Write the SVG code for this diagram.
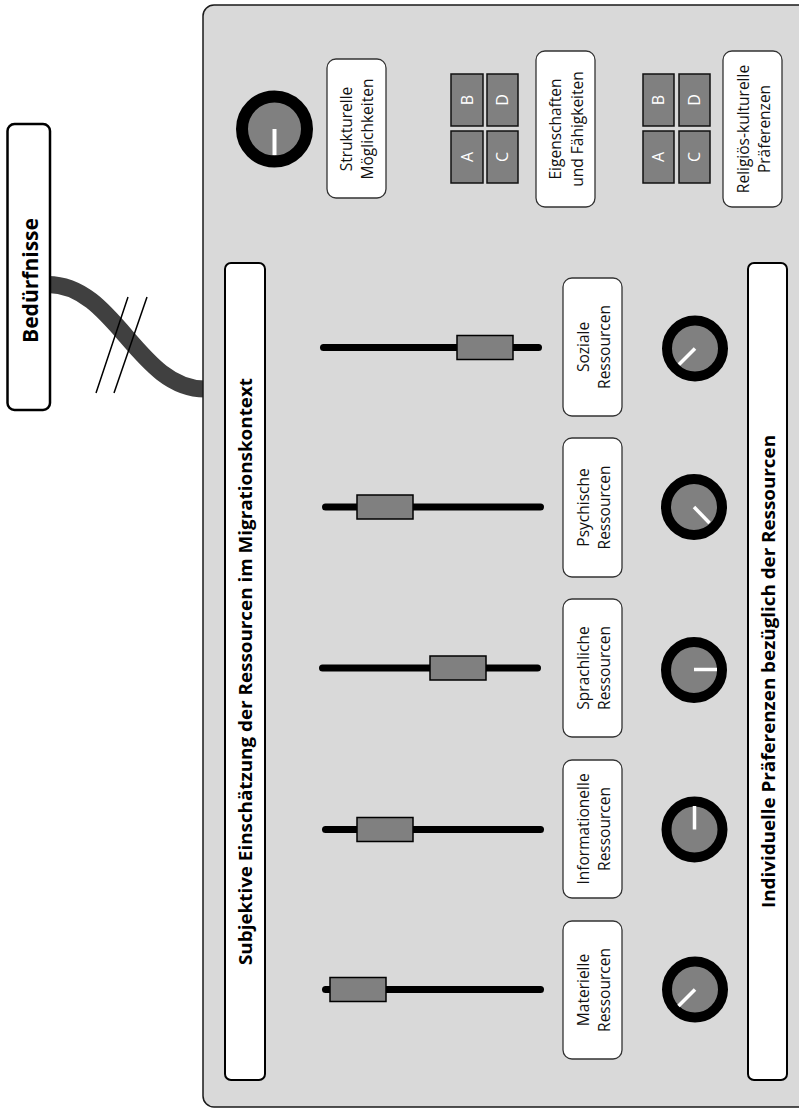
<svg xmlns="http://www.w3.org/2000/svg" width="799" height="1110" viewBox="0 0 799 1110">
<defs>
<style>
.panel{fill:#d9d9d9;stroke:#1a1a1a;stroke-width:1.5}
.title{fill:#fff;stroke:#000;stroke-width:2}
.lbox{fill:#fff;stroke:#333;stroke-width:1.3}
.lbl{font-family:"Open Sans","Noto Sans",sans-serif;font-size:15.5px;fill:#111;text-anchor:middle}
.ttl{font-family:"Open Sans","Noto Sans",sans-serif;font-size:18.3px;font-weight:bold;fill:#000;text-anchor:middle}
.track{stroke:#000;stroke-width:7;stroke-linecap:round;fill:none}
.handle{fill:#808080;stroke:#000;stroke-width:1.5}
.knob{fill:#808080;stroke:#000;stroke-width:10}
.ind{stroke:#fff;stroke-width:3.5;fill:none}
.blk{fill:#808080;stroke:#111;stroke-width:1.5}
.let{font-family:"Open Sans","Noto Sans",sans-serif;font-size:16px;fill:#fff;text-anchor:middle}
</style>
</defs>
<g id="connectors">
<path d="M48,284.5 C115,284.5 138,389 205,389" fill="none" stroke="#404040" stroke-width="17"/>
<line x1="128" y1="297" x2="96" y2="393" stroke="#000" stroke-width="1.5"/>
<line x1="147" y1="297" x2="114" y2="393" stroke="#000" stroke-width="1.5"/>
</g>
<g id="beduerfnisse">
<rect x="7.5" y="124" width="42.5" height="286" rx="7" fill="#fff" stroke="#000" stroke-width="2.5"/>
<text class="ttl" style="font-size:21px" transform="translate(37.5,280.5) rotate(-90)" x="0" y="0" textLength="125" lengthAdjust="spacingAndGlyphs">Bedürfnisse</text>
</g>
<g id="panel">
<rect class="panel" x="203" y="5" width="640" height="1102" rx="11"/>
</g>
<g id="title-left">
<rect class="title" x="225" y="263" width="40" height="817" rx="6"/>
<text class="ttl" transform="translate(245,671.5) rotate(-90)" x="0" y="7" textLength="587" lengthAdjust="spacingAndGlyphs">Subjektive Einschätzung der Ressourcen im Migrationskontext</text>
</g>
<g id="title-right">
<rect class="title" x="748" y="263" width="39" height="817" rx="6"/>
<text class="ttl" transform="translate(767.5,671.5) rotate(-90)" x="0" y="7" textLength="473" lengthAdjust="spacingAndGlyphs">Individuelle Präferenzen bezüglich der Ressourcen</text>
</g>
<g id="knob-strukturell">
<circle cx="274.5" cy="129" r="32.5" fill="#808080" stroke="#000" stroke-width="12"/>
<line class="ind" x1="274.5" y1="129" x2="274.5" y2="155" style="stroke-width:4"/>
</g>
<g id="label-strukturell">
<rect class="lbox" x="327" y="59" width="59" height="139" rx="9"/>
<text class="lbl" transform="translate(356.5,129) rotate(-90)"><tspan x="0" y="-4.5">Strukturelle</tspan><tspan x="0" y="16.5">Möglichkeiten</tspan></text>
</g>
<g id="blocks-1">
<rect class="blk" x="451" y="74" width="32" height="52"/>
<rect class="blk" x="451" y="131" width="32" height="52"/>
<rect class="blk" x="487" y="74" width="31" height="52"/>
<rect class="blk" x="487" y="131" width="31" height="52"/>
<text class="let" transform="translate(467,100) rotate(-90)" y="5.7">B</text>
<text class="let" transform="translate(467,157) rotate(-90)" y="5.7">A</text>
<text class="let" transform="translate(502.5,100) rotate(-90)" y="5.7">D</text>
<text class="let" transform="translate(502.5,157) rotate(-90)" y="5.7">C</text>
</g>
<g id="label-eigenschaften">
<rect class="lbox" x="536" y="51" width="59" height="156" rx="9"/>
<text class="lbl" transform="translate(565.5,129) rotate(-90)"><tspan x="0" y="-4.5">Eigenschaften</tspan><tspan x="0" y="17">und Fähigkeiten</tspan></text>
</g>
<g id="blocks-2">
<rect class="blk" x="643" y="74" width="31" height="52"/>
<rect class="blk" x="643" y="131" width="31" height="52"/>
<rect class="blk" x="679" y="74" width="31" height="52"/>
<rect class="blk" x="679" y="131" width="31" height="52"/>
<text class="let" transform="translate(658.5,100) rotate(-90)" y="5.7">B</text>
<text class="let" transform="translate(658.5,157) rotate(-90)" y="5.7">A</text>
<text class="let" transform="translate(694.5,100) rotate(-90)" y="5.7">D</text>
<text class="let" transform="translate(694.5,157) rotate(-90)" y="5.7">C</text>
</g>
<g id="label-religioes">
<rect class="lbox" x="723" y="51" width="59" height="156" rx="9"/>
<text class="lbl" transform="translate(752.5,129) rotate(-90)"><tspan x="0" y="-4">Religiös-kulturelle</tspan><tspan x="0" y="17.5">Präferenzen</tspan></text>
</g>
<g id="soziale">
<line class="track" x1="323.5" y1="347.5" x2="538.5" y2="347.5"/>
<rect class="handle" x="457" y="335.5" width="56" height="24"/>
<rect class="lbox" x="563" y="278" width="59" height="138" rx="9"/>
<text class="lbl" transform="translate(592.5,347) rotate(-90)"><tspan x="0" y="-4">Soziale</tspan><tspan x="0" y="17.5">Ressourcen</tspan></text>
<circle class="knob" cx="695" cy="348.5" r="28"/>
<line class="ind" x1="695" y1="348.5" x2="679" y2="364.5"/>
</g>
<g id="psychische">
<line class="track" x1="325.5" y1="507" x2="540.5" y2="507"/>
<rect class="handle" x="357" y="495" width="56" height="24"/>
<rect class="lbox" x="563" y="438" width="59" height="139" rx="9"/>
<text class="lbl" transform="translate(592.5,507.5) rotate(-90)"><tspan x="0" y="-4">Psychische</tspan><tspan x="0" y="17.5">Ressourcen</tspan></text>
<circle class="knob" cx="694" cy="507" r="28"/>
<line class="ind" x1="694" y1="507" x2="709.5" y2="523"/>
</g>
<g id="sprachliche">
<line class="track" x1="322.5" y1="668" x2="537.5" y2="668"/>
<rect class="handle" x="430" y="656" width="56" height="24"/>
<rect class="lbox" x="563" y="599" width="59" height="138" rx="9"/>
<text class="lbl" transform="translate(592.5,668) rotate(-90)"><tspan x="0" y="-4">Sprachliche</tspan><tspan x="0" y="17.5">Ressourcen</tspan></text>
<circle class="knob" cx="694" cy="670" r="28"/>
<line class="ind" x1="694" y1="669.5" x2="717" y2="669.5"/>
</g>
<g id="informationelle">
<line class="track" x1="325.5" y1="829.5" x2="540.5" y2="829.5"/>
<rect class="handle" x="357" y="817.5" width="56" height="24"/>
<rect class="lbox" x="563" y="760" width="59" height="138" rx="9"/>
<text class="lbl" transform="translate(592.5,829) rotate(-90)"><tspan x="0" y="-4">Informationelle</tspan><tspan x="0" y="17.5">Ressourcen</tspan></text>
<circle class="knob" cx="694.5" cy="829.5" r="28"/>
<line class="ind" x1="694.5" y1="829.5" x2="694.5" y2="806"/>
</g>
<g id="materielle">
<line class="track" x1="325.5" y1="989.5" x2="540.5" y2="989.5"/>
<rect class="handle" x="330" y="977.5" width="56" height="24"/>
<rect class="lbox" x="563" y="921" width="59" height="138" rx="9"/>
<text class="lbl" transform="translate(592.5,990) rotate(-90)"><tspan x="0" y="-4">Materielle</tspan><tspan x="0" y="17.5">Ressourcen</tspan></text>
<circle class="knob" cx="695" cy="989.5" r="28"/>
<line class="ind" x1="695" y1="989.5" x2="678.5" y2="1006"/>
</g>
</svg>
